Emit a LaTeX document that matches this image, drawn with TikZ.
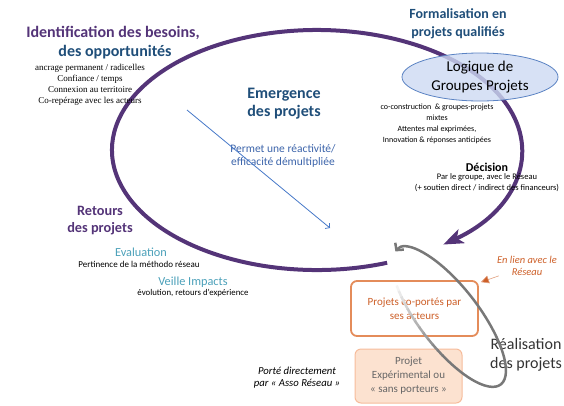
\documentclass[tikz,border=0pt]{standalone}
\usepackage{fontspec}
\setmainfont{Carlito}
\newfontfamily\notesserif{Liberation Serif}
\usepackage{tikz}
\usetikzlibrary{arrows.meta}
\usetikzlibrary{shapes}
\definecolor{cyclepurple}{RGB}{84,52,120}
\definecolor{titleblue}{RGB}{31,78,121}
\definecolor{tealtxt}{RGB}{75,160,185}
\definecolor{linkblue}{RGB}{70,120,200}
\definecolor{permetblue}{RGB}{60,100,170}
\definecolor{boxorange}{RGB}{228,140,90}
\definecolor{txtorange}{RGB}{205,95,40}
\definecolor{peach}{RGB}{252,226,208}
\definecolor{peachline}{RGB}{246,188,155}
\definecolor{loopgray}{RGB}{120,120,120}
\definecolor{groupblue}{RGB}{205,218,242}
\definecolor{groupline}{RGB}{90,130,195}
\tikzstyle{bigtitle}=[font=\bfseries\fontsize{16}{18}\selectfont,align=center,inner sep=0pt]
\tikzstyle{midtitle}=[font=\bfseries\fontsize{14}{18}\selectfont,align=center,inner sep=0pt]
\tikzstyle{notes}=[font=\fontsize{7.8}{11}\selectfont,align=center,inner sep=0pt]
\tikzstyle{sublabel}=[font=\fontsize{12.3}{14}\selectfont,tealtxt,inner sep=0pt]
\tikzstyle{bluenote}=[font=\fontsize{11.5}{13}\selectfont,permetblue,align=center,inner sep=0pt]
\tikzstyle{italnote}=[font=\itshape\fontsize{10.5}{12}\selectfont,align=center,inner sep=0pt]
\tikzstyle{projbox}=[rectangle,rounded corners=6pt,align=center,font=\fontsize{11}{14}\selectfont]
\tikzstyle{cycle}=[cyclepurple,line width=4pt,-{Stealth[length=20pt,width=15pt,inset=5pt]}]
\tikzstyle{loop}=[loopgray,line width=2.5pt]

\begin{document}
\begin{tikzpicture}[x=1pt,y=1pt]
  \useasboundingbox (0,0) rectangle (564,-405);
  \coordinate (ecent) at (317,-150);
  \coordinate (gcent) at (449,-317);
  \coordinate (bstart) at (187,-110);
  \coordinate (bend) at (330,-228);

  \draw[cycle] ([shift={(-70:205pt and 120pt)}]ecent) arc[start angle=-70,end angle=-412,x radius=205pt,y radius=120pt];

  \node[ellipse,draw=groupline,line width=0.8pt,fill=groupblue,fill opacity=0.8,text opacity=1,minimum width=156pt,minimum height=48pt,inner sep=0pt,align=center,font=\fontsize{15}{19}\selectfont] at (480,-77) (logique) {Logique de\\Groupes Projets};

  \node[bigtitle,cyclepurple] at (113,-33) (idtitle) {Identification des besoins,};
  \node[bigtitle,titleblue] at (115,-52) (idsub) {des opportunit\'es};
  \node[notes,font=\notesserif\fontsize{9}{11}\selectfont] at (90,-84.5) (idlist) {ancrage permanent / radicelles\\Confiance / temps\\Connexion au territoire\\Co-rep\'erage avec les acteurs};
  \node[midtitle,titleblue] at (458,-24) (formtitle) {Formalisation en\\projets qualifi\'es};
  \node[bigtitle,titleblue] at (284,-104) (emerg) {Emergence\\des projets};
  \node[bluenote] at (283,-156) (permet) {Permet une r\'eactivit\'e/\\efficacit\'e d\'emultipli\'ee};
  \node[notes,font=\fontsize{8}{11}\selectfont] at (437,-123.5) (coconst) {co-construction \ \& groupes-projets\\mixtes\\Attentes mal exprim\'ees,\\Innovation \& r\'eponses anticip\'ees};
  \node[font=\bfseries\fontsize{12}{13}\selectfont,inner sep=0pt] at (487,-167) (decision) {D\'ecision};
  \node[notes,font=\fontsize{8.5}{11}\selectfont] at (487,-182.5) (decnotes) {Par le groupe, avec le R\'eseau\\(+ soutien direct / indirect des financeurs)};
  \node[midtitle,cyclepurple,font=\bfseries\fontsize{14.3}{17}\selectfont] at (100,-220.5) (retours) {Retours\\des projets};
  \node[sublabel] at (141,-252) (evaluation) {Evaluation};
  \node[notes,font=\fontsize{9}{11}\selectfont] at (139,-264) (pertinence) {Pertinence de la m\'ethodo r\'eseau};
  \node[sublabel] at (193,-282) (veille) {Veille Impacts};
  \node[notes,font=\fontsize{8.8}{11}\selectfont] at (193,-293) (evolution) {\'evolution, retours d'exp\'erience};

  \draw[linkblue,line width=0.8pt,-{Straight Barb[length=3pt,width=7pt]}] (bstart) -- (bend);

  \node[projbox,draw=boxorange,line width=1.8pt,fill=white,text=txtorange,minimum width=127pt,minimum height=55pt] at (414.5,-308.5) (coporte) {Projets co-port\'es par\\ses acteurs};
  \node[projbox,draw=peachline,line width=1pt,fill=peach,text=black!60,minimum width=107pt,minimum height=54pt] at (408.5,-376) (experim) {Projet\\Exp\'erimental ou\\\guillemotleft{} sans porteurs \guillemotright};
  \node[italnote,text=txtorange] at (527,-266) (lien) {En lien avec le\\R\'eseau};
  \node[align=center,inner sep=0pt,font=\fontsize{16}{19}\selectfont,text=black!80] at (526,-354.5) (realisation) {R\'ealisation\\des projets};
  \node[italnote,font=\itshape\fontsize{10.7}{12}\selectfont] at (297,-378) (porte) {Port\'e directement\\par \guillemotleft{} Asso R\'eseau \guillemotright};

  \draw[-{Triangle[length=8pt,width=8pt,fill=txtorange]},txtorange!60,line width=0.6pt] (lien) -- ([xshift=2pt,yshift=-2pt]coporte.north east);

  \begin{scope}[shift={(gcent)},rotate=-52.5]
    \foreach \t [count=\i] in {228,233,...,283}
      \draw[loop,loopgray!\the\numexpr\i*8\relax] (\t:85pt and 30pt) arc[start angle=\t,end angle=\t+5.5,x radius=85pt,y radius=30pt];
    \draw[loop,-{Straight Barb[length=5pt,width=11pt]}] (288:85pt and 30pt) arc[start angle=288,end angle=545,x radius=85pt,y radius=30pt];
  \end{scope}
\end{tikzpicture}
\end{document}
